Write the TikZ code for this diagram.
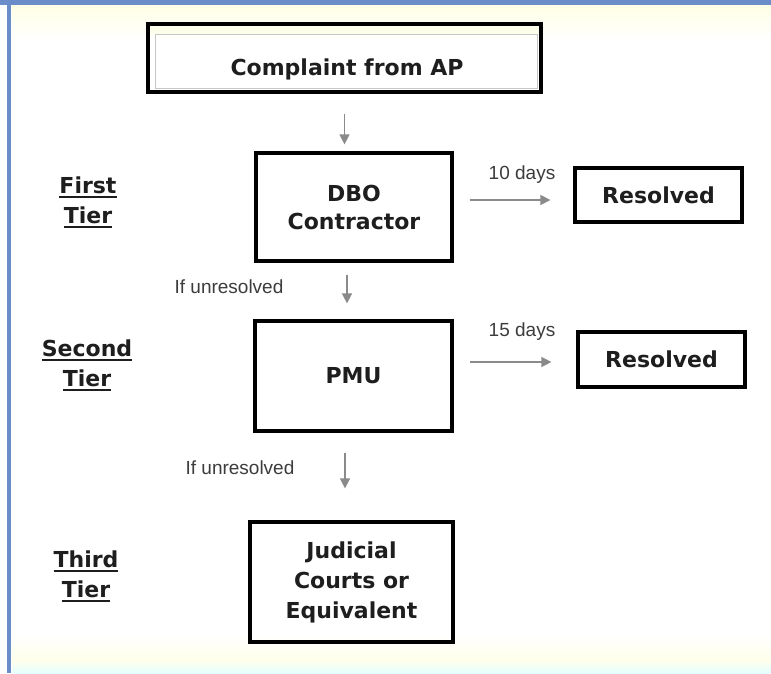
\documentclass[tikz,border=0pt]{standalone}
\usepackage{fontspec}
\usetikzlibrary{arrows.meta}
\newfontfamily\boxfont{DejaVu Sans}
\newfontfamily\labfont{Liberation Sans}
\newcommand\tierul[1]{\setbox0\hbox{#1}\rlap{\rule[-4.5pt]{\wd0}{1.8pt}}\box0}
\definecolor{frameblue}{HTML}{6A8CC8}
\definecolor{arrgray}{HTML}{8A8A8A}
\definecolor{labgray}{HTML}{3C3C3C}
\definecolor{boxtext}{HTML}{1E1E1E}
\begin{document}
\begin{tikzpicture}[x=1pt,y=-1pt,
  box/.style={draw=black,line width=3.2pt,rectangle,inner sep=0pt,
    font=\boxfont\bfseries\fontsize{22}{30}\selectfont,text=boxtext,align=center},
  tier/.style={font=\boxfont\bfseries\fontsize{22}{30}\selectfont,text=boxtext,align=center},
  lab/.style={font=\labfont\fontsize{19}{22}\selectfont,text=labgray,inner sep=0pt},
  arr/.style={draw=arrgray,line width=1.4pt,-{Triangle[length=10pt,width=10pt]}}]
\useasboundingbox (0,0) rectangle (771,673);
\fill[white] (0,0) rectangle (771,673);
% faint background tints
\shade[top color=yellow!10,bottom color=white] (12,5) rectangle (771,40);
\shade[top color=white,bottom color=yellow!8] (12,635) rectangle (771,660);
\shade[top color=yellow!8,bottom color=cyan!10] (12,660) rectangle (771,673);
% blue frame
\fill[frameblue] (0,0) rectangle (771,5);
\fill[frameblue] (7,0) rectangle (11,673);
% complaint box
\fill[green!6!yellow!8] (150,26) rectangle (539,34);
\draw[gray!45,line width=1pt] (155,34) rectangle (537,88);
\node[box,minimum width=393pt,minimum height=68pt] (complaint) at (344.5,58) {};
\node[box,draw=none] (ctext) at (347,69) {Complaint from AP};
% tier boxes
\node[box,minimum width=196pt,minimum height=108pt] (dbo) at (354,207) {DBO\\[-2pt]Contractor};
\node[box,minimum width=197pt,minimum height=110pt] (pmu) at (353.5,376) {PMU};
\node[box,minimum width=203pt,minimum height=120pt] (jud) at (351.5,582) {Judicial\\Courts or\\Equivalent};
% resolved boxes
\node[box,minimum width=167pt,minimum height=54pt] (res1) at (658.5,195) {Resolved};
\node[box,minimum width=167pt,minimum height=55pt] (res2) at (661.5,359.5) {Resolved};
% tier labels
\node[tier] (t1) at (88,202) {\tierul{First}\\\tierul{Tier}};
\node[tier] (t2) at (87,365) {\tierul{Second}\\\tierul{Tier}};
\node[tier] (t3) at (86,576) {\tierul{Third}\\\tierul{Tier}};
% small labels
\node[lab] (d10) at (522,175) {10 days};
\node[lab] (d15) at (522,332) {15 days};
\node[lab] (u1) at (229,287) {If unresolved};
\node[lab] (u2) at (240,468) {If unresolved};
% connectors
\draw[arr,shorten <=20pt,shorten >=7pt] (complaint.south) -- (complaint.south |- dbo.north);
\draw[arr,shorten <=12pt,shorten >=16pt] ([xshift=-7pt]dbo.south) -- ([xshift=-7pt]dbo.south |- pmu.north);
\draw[arr,shorten <=20pt,shorten >=32pt] ([xshift=-8.5pt]pmu.south) -- ([xshift=-8.5pt]pmu.south |- jud.north);
\draw[arr,shorten <=16pt,shorten >=23pt] ([yshift=7pt]dbo.east) -- ([yshift=7pt]dbo.east -| res1.west);
\draw[arr,shorten <=16pt,shorten >=25pt] ([yshift=14pt]pmu.east) -- ([yshift=14pt]pmu.east -| res2.west);
\end{tikzpicture}
\end{document}
